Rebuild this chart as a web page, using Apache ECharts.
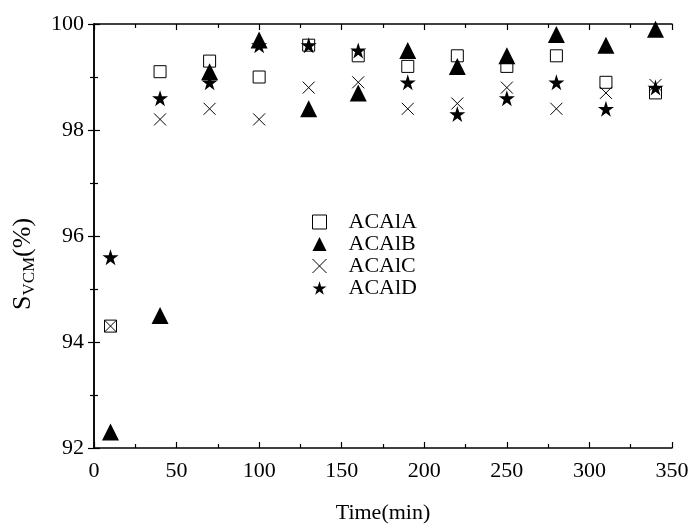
<!DOCTYPE html>
<html>
<head>
<meta charset="utf-8">
<script src="https://cdn.jsdelivr.net/npm/echarts@6/dist/echarts.min.js"></script>
<style>html,body{margin:0;padding:0;background:#fff}#c{width:693px;height:529px}</style>
</head>
<body>
<div id="c"></div>
<script>
const times = [10, 40, 70, 100, 130, 160, 190, 220, 250, 280, 310, 340];
const acalA = [94.3, 99.1, 99.3, 99.0, 99.6, 99.4, 99.2, 99.4, 99.2, 99.4, 98.9, 98.7];
const acalB = [92.3, 94.5, 99.1, 99.7, 98.4, 98.7, 99.5, 99.2, 99.4, 99.8, 99.6, 99.9];
const acalC = [94.3, 98.2, 98.4, 98.2, 98.8, 98.9, 98.4, 98.5, 98.8, 98.4, 98.7, 98.85];
const acalD = [95.6, 98.6, 98.9, 99.6, 99.6, 99.5, 98.9, 98.3, 98.6, 98.9, 98.4, 98.8];
const seriesNames = ['ACAlA', 'ACAlB', 'ACAlC', 'ACAlD'];
const xTicks = [0, 50, 100, 150, 200, 250, 300, 350];
const yTicks = [92, 94, 96, 98, 100];

const FONT = '"Liberation Serif", "Times New Roman", Times, serif';
const STAR = 'path://M50,0 L61.8,36.2 L100,36.2 L69.1,58.6 L80.9,95.1 L50,72.7 L19.1,95.1 L30.9,58.6 L0,36.2 L38.2,36.2 Z';
const CROSS = 'path://M0,0 L10,10 M10,0 L0,10';

function pts(arr) { return times.map((t, i) => [t, arr[i]]); }

const styles = [
  { symbol: 'rect', size: 12, itemStyle: { color: '#fff', borderColor: '#000', borderWidth: 1, opacity: 1 } },
  { symbol: 'triangle', size: 17, itemStyle: { color: '#000', opacity: 1 } },
  { symbol: CROSS, size: 12, itemStyle: { color: 'none', borderColor: '#000', borderWidth: 1, opacity: 1 } },
  { symbol: STAR, size: 16, itemStyle: { color: '#000', opacity: 1 } }
];
const datas = [acalA, acalB, acalC, acalD];

const axisCommon = {
  axisLine: { show: true, lineStyle: { color: '#000', width: 1.5 } },
  axisTick: { show: true, inside: true, length: 6, lineStyle: { color: '#000', width: 1.2 } },
  minorTick: { show: true, splitNumber: 2, length: 4, lineStyle: { color: '#000', width: 1.2 } },
  splitLine: { show: false },
  axisLabel: { color: '#000', fontFamily: FONT, fontSize: 22 }
};

const option = {
  animation: false,
  backgroundColor: '#fff',
  grid: { left: 94, right: 21, top: 24, bottom: 76 },
  legend: {
    orient: 'vertical',
    left: 305,
    top: 206,
    itemWidth: 14,
    itemHeight: 14,
    itemGap: 0,
    textStyle: { fontFamily: FONT, fontSize: 22, color: '#000', padding: [0, 0, 0, 17] },
    data: seriesNames.map((n, i) => ({ name: n, icon: styles[i].symbol, itemStyle: styles[i].itemStyle }))
  },
  xAxis: [
    Object.assign({}, axisCommon, {
      type: 'value', min: xTicks[0], max: xTicks[xTicks.length - 1], interval: 50,
      name: 'Time(min)', nameLocation: 'middle', nameGap: 54,
      nameTextStyle: { fontFamily: FONT, fontSize: 22, color: '#000' },
      axisLabel: Object.assign({}, axisCommon.axisLabel, { margin: 12 })
    }),
    Object.assign({}, axisCommon, {
      type: 'value', position: 'top', min: 0, max: 350, interval: 50,
      axisLabel: { show: false }
    })
  ],
  yAxis: [
    Object.assign({}, axisCommon, {
      type: 'value', min: yTicks[0], max: yTicks[yTicks.length - 1], interval: 2,
      name: '{s|S}{sub|VCM}{s|(%)}', nameLocation: 'middle', nameGap: 56,
      nameTextStyle: {
        padding: [0, 56, 0, 0],
        rich: {
          s: { fontFamily: FONT, fontSize: 26, color: '#000' },
          sub: { fontFamily: FONT, fontSize: 17, color: '#000', padding: [12, 0, 0, 0] }
        }
      },
      axisLabel: Object.assign({}, axisCommon.axisLabel, { margin: 10 })
    }),
    Object.assign({}, axisCommon, {
      type: 'value', position: 'right', min: 92, max: 100, interval: 2,
      axisLabel: { show: false }
    })
  ],
  series: seriesNames.map((n, i) => ({
    name: n,
    type: 'scatter',
    xAxisIndex: 0, yAxisIndex: 0,
    symbol: styles[i].symbol,
    symbolSize: styles[i].size,
    itemStyle: styles[i].itemStyle,
    data: pts(datas[i]),
    z: 2 + i
  }))
};

const chart = echarts.init(document.getElementById('c'), null, { renderer: 'canvas' });
chart.setOption(option);
</script>
</body>
</html>
